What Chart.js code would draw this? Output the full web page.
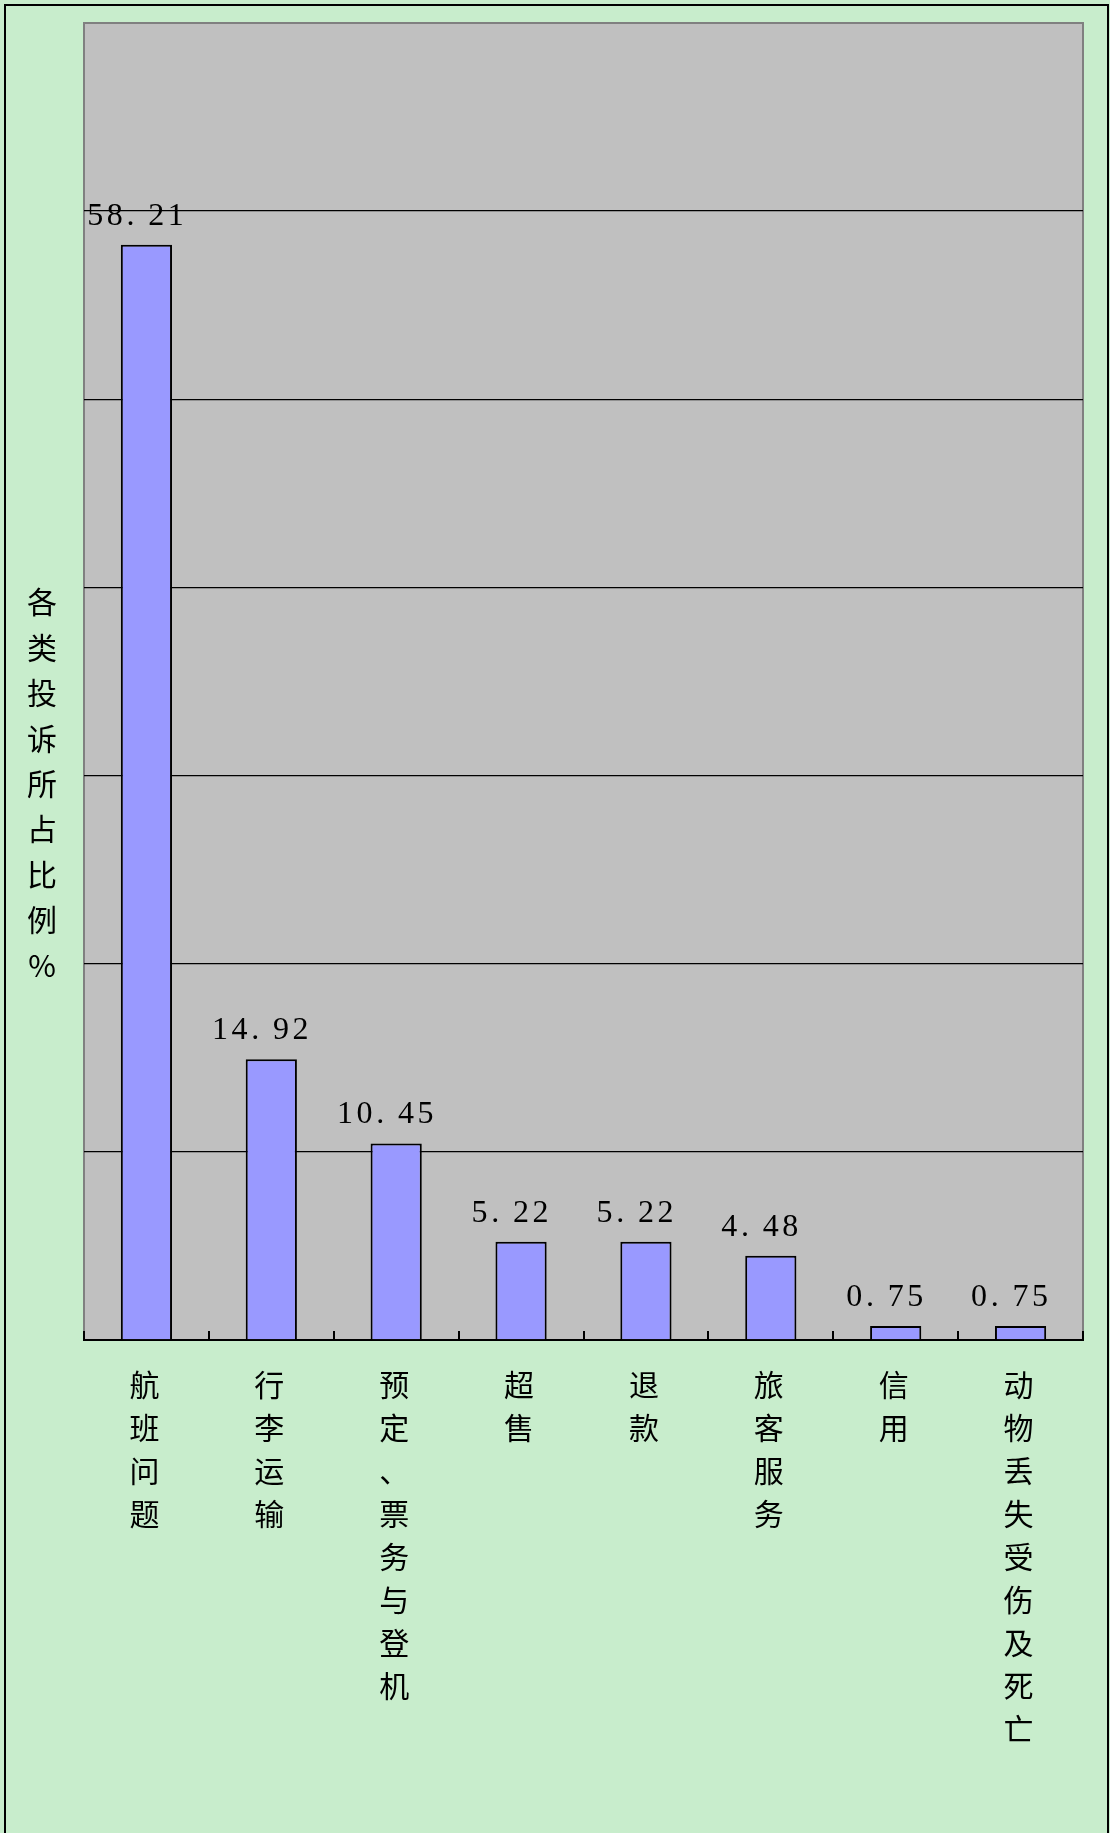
<!DOCTYPE html>
<html>
<head>
<meta charset="utf-8">
<script src="https://cdn.jsdelivr.net/npm/chart.js@4"></script>
<style>
    body { margin: 0; background: #c8edcc; }
    #wrap { position: relative; width: 1110px; height: 1833px; overflow: hidden; background: #c8edcc; }
    #frame { position: absolute; left: 4px; top: 4px; width: 1101px; height: 1900px; border: 2px solid #000; }
    canvas { position: absolute; left: 0; top: 0; }
</style>
</head>
<body>
<div id="wrap">
    <div id="frame"></div>
    <canvas id="chartKeluhan" width="1110" height="1833"></canvas>
</div>
<script>
// Data
const kategori = ['航班问题', '行李运输', '预定、票务与登机', '超售', '退款', '旅客服务', '信用', '动物丢失受伤及死亡'];
const persen = [58.21, 14.92, 10.45, 5.22, 5.22, 4.48, 0.75, 0.75];
const labelNilai = ['58.21', '14.92', '10.45', '5.22', '5.22', '4.48', '0.75', '0.75'];
const judulY = '各类投诉所占比例%';
const yMax = 70;
const yStep = 10;

const fontCJK = '"Noto Sans CJK SC", sans-serif';
const fontAngka = '"Liberation Serif", serif';

// advance of each character in a value label (period gets a wide slot)
function lebarHuruf(ch) {
    return ch === '.' ? 22 : 19.5;
}

// Plot background, frame, ticks and texts
const gambarPlugin = {
    id: 'gambarPlugin',
    beforeDraw(chart) {
        const { ctx, chartArea: a } = chart;
        ctx.save();
        ctx.fillStyle = '#c0c0c0';
        ctx.fillRect(a.left, a.top, a.right - a.left, a.bottom - a.top);
        ctx.strokeStyle = '#808080';
        ctx.lineWidth = 2;
        ctx.beginPath();
        ctx.moveTo(a.left, a.bottom);
        ctx.lineTo(a.left, a.top);
        ctx.lineTo(a.right, a.top);
        ctx.lineTo(a.right, a.bottom);
        ctx.stroke();
        ctx.restore();
    },
    afterDatasetsDraw(chart) {
        const { ctx, chartArea: a } = chart;
        const x = chart.scales.x;
        const y = chart.scales.y;
        const lebar = (a.right - a.left) / kategori.length;
        ctx.save();

        // tick marks between categories
        ctx.strokeStyle = '#000';
        ctx.lineWidth = 2;
        for (let i = 0; i <= kategori.length; i++) {
            const px = Math.round(x.getPixelForValue(0) - lebar / 2 + i * lebar);
            ctx.beginPath();
            ctx.moveTo(px, a.bottom);
            ctx.lineTo(px, a.bottom - 9);
            ctx.stroke();
        }

        // value labels
        ctx.fillStyle = '#000';
        ctx.font = '32px ' + fontAngka;
        ctx.textAlign = 'left';
        ctx.textBaseline = 'alphabetic';
        labelNilai.forEach((teks, i) => {
            const cx = x.getPixelForValue(i);
            const top = y.getPixelForValue(persen[i]);
            const total = [...teks].reduce((s, ch) => s + lebarHuruf(ch), 0);
            let px = cx - 11 - total / 2;
            for (const ch of teks) {
                const w = ctx.measureText(ch).width;
                const slot = lebarHuruf(ch);
                const off = ch === '.' ? 2 : (slot - w) / 2;
                ctx.fillText(ch, px + off, top - 20);
                px += slot;
            }
        });

        // category labels (vertical)
        ctx.textAlign = 'center';
        ctx.font = '30px ' + fontCJK;
        ctx.textBaseline = 'middle';
        kategori.forEach((teks, i) => {
            const cx = x.getPixelForValue(i) - 2;
            [...teks].forEach((ch, k) => {
                ctx.fillText(ch, cx, a.bottom + 45 + k * 43);
            });
        });

        // y title (vertical)
        [...judulY].forEach((ch, k) => {
            ctx.fillText(ch, 42, 602 + k * 45.4);
        });
        ctx.restore();
    }
};

const ctx = document.getElementById('chartKeluhan');
new Chart(ctx, {
    type: 'bar',
    data: {
        labels: kategori,
        datasets: [{
            data: persen,
            backgroundColor: '#9999ff',
            borderColor: '#000',
            borderWidth: 2,
            borderSkipped: 'bottom',
            categoryPercentage: 1,
            barPercentage: 0.41
        }]
    },
    options: {
        responsive: false,
        animation: false,
        layout: {
            padding: { left: 84, top: 23, right: 27, bottom: 493 }
        },
        plugins: {
            legend: { display: false },
            tooltip: { enabled: false }
        },
        scales: {
            x: {
                grid: { display: false, drawTicks: false },
                ticks: { display: false },
                border: { display: true, color: '#000', width: 2 }
            },
            y: {
                min: 0,
                max: yMax,
                ticks: { display: false, stepSize: yStep },
                grid: {
                    drawTicks: false,
                    lineWidth: 1.3,
                    color: function(c) {
                        const v = c.tick ? c.tick.value : 0;
                        return (v > 0 && v < yMax) ? '#000' : 'rgba(0,0,0,0)';
                    }
                },
                border: { display: false }
            }
        }
    },
    plugins: [gambarPlugin]
});
</script>
</body>
</html>
